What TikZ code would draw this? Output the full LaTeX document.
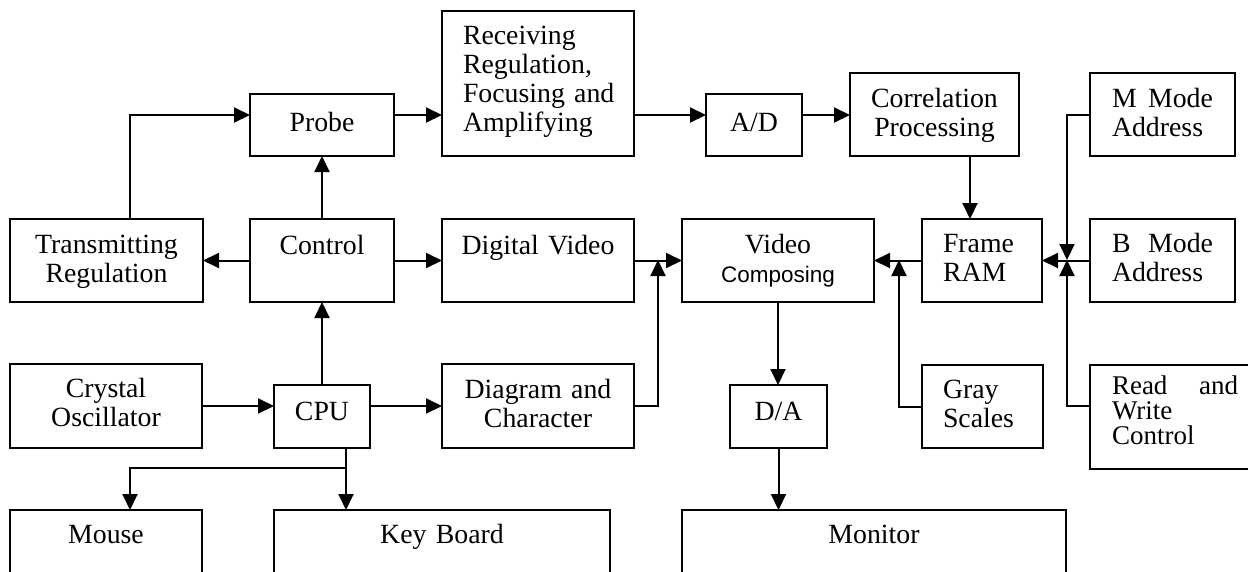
\documentclass[tikz,border=0pt]{standalone}
\usepackage{fontspec}
\setmainfont{Liberation Serif}
\newfontfamily\arialfont{Liberation Sans}
\usepackage{tikz}
\usetikzlibrary{arrows.meta, positioning}

\tikzset{
  blk/.style={draw, line width=2pt, inner sep=0pt, outer sep=0pt, anchor=north west,
    align=center, text height=34pt, font=\fontsize{27.8pt}{29pt}\selectfont},
  lblk/.style={blk, align=left, inner xsep=21pt},
  arr/.style={-{Triangle[length=16pt,width=15pt]}, line width=2pt}
}

\begin{document}
\begin{tikzpicture}[x=1pt, y=-1pt]
\clip (0,0) rectangle (1248,571);

% Left column
\node[blk, text width=193pt, text depth=49pt] (trans) at (10,219) {Transmitting\\Regulation};
\node[blk, text width=192pt, text height=33pt, text depth=51pt] (crystal) at (10,364) {Crystal\\Oscillator};
\node[blk, text width=192pt, text height=33pt, text depth=67pt] (mouse) at (10,510) {Mouse};

% Probe, control, CPU
\node[blk, text width=144pt, text height=37pt, text depth=25pt] (probe) at (250,94) {Probe};
\node[blk, text width=144pt, text height=35pt, text depth=48pt] (control) at (250,219) {Control};
\node[blk, text width=96pt, text height=35pt, text depth=28pt] (cpu) at (274,385) {CPU};
\node[blk, text width=336pt, text height=33pt, text depth=67pt] (keyboard) at (274,510) {Key Board};

% Middle column
\node[lblk, text width=150pt, text height=33pt, text depth=112pt] (recv) at (442,11) {Receiving\\Regulation,\\Focusing~and\\Amplifying};
\node[blk, text width=192pt, text height=35pt, text depth=48pt] (digvideo) at (442,219) {Digital Video};
\node[blk, text width=192pt, text depth=50pt] (diagram) at (442,364) {Diagram and\\Character};

% Video path
\node[blk, text width=96pt, text height=37pt, text depth=25pt] (ad) at (706,94) {A/D};
\node[blk, text width=192pt, text depth=49pt] (vcomp) at (682,219) {Video\\{\arialfont\fontsize{22.5pt}{29pt}\selectfont Composing}};
\node[blk, text width=97pt, text height=35pt, text depth=28pt] (da) at (730,385) {D/A};
\node[blk, text width=384pt, text height=33pt, text depth=67pt] (monitor) at (682,510) {Monitor};

% Memory side
\node[blk, text width=169pt, text depth=49pt] (corr) at (850,73) {Correlation\\Processing};
\node[lblk, text width=78pt, text height=33pt, text depth=50pt] (frame) at (922,219) {Frame\\RAM};
\node[lblk, text width=79pt, text height=33pt, text depth=50pt] (gray) at (922,365) {Gray\\Scales};
\node[lblk, inner xsep=22pt, text width=101pt, text depth=49pt] (mmode) at (1090,73) {M\hfill Mode\\Address};
\node[lblk, inner xsep=22pt, text width=101pt, text height=33pt, text depth=50pt] (bmode) at (1090,219) {B\hfill Mode\\Address};
\node[lblk, inner xsep=22pt, text width=126pt, text height=29pt, text depth=75pt,
  font=\fontsize{27pt}{25pt}\selectfont] (rw) at (1090,365) {Read\hfill and\\Write\\Control};

% Bends and levels
\coordinate (r1) at (0,115);
\coordinate (r3) at (0,406);
\coordinate (tp) at (130,115);
\coordinate (dc) at (658,260);
\coordinate (gs) at (899,260);
\coordinate (mw) at (1067,260);
\coordinate (cf) at (970,156);
\coordinate (cb) at (346,468);
\coordinate (ms) at (130,468);

% Connectors
\draw[arr] (trans.north -| tp) |- (probe.west |- tp);
\draw[arr] (probe.east |- r1) -- (recv.west |- r1);
\draw[arr] (recv.east |- r1) -- (ad.west |- r1);
\draw[arr] (ad.east |- r1) -- (corr.west |- r1);
\draw[arr] (control.north) -- (probe.south);
\draw[arr] (control.west) -- (trans.east);
\draw[arr] (control.east) -- (digvideo.west);
\draw[arr] (cpu.north) -- (control.south);
\draw[arr] (crystal.east) -- (cpu.west |- crystal.east);
\draw[arr] (cpu.east |- r3) -- (diagram.west |- r3);
\draw[arr] (digvideo.east) -- (vcomp.west);
\draw[arr] (diagram.east) -| (dc);
\draw[arr] (vcomp.south) -- (vcomp.south |- da.north);
\draw[arr] (da.south) -- (da.south |- monitor.north);
\draw[arr] (corr.south -| cf) -- (frame.north -| cf);
\draw[arr] (frame.west) -- (vcomp.east);
\draw[arr] (gray.west) -| (gs);
\draw[arr] (bmode.west) -- (frame.east);
\draw[arr] (mmode.west) -| (mw);
\draw[arr] (rw.west |- r3) -| (mw);
\draw[arr] (cpu.south -| cb) -- (cb |- keyboard.north);
\draw[arr] (cb) -| (mouse.north -| ms);
\end{tikzpicture}
\end{document}
